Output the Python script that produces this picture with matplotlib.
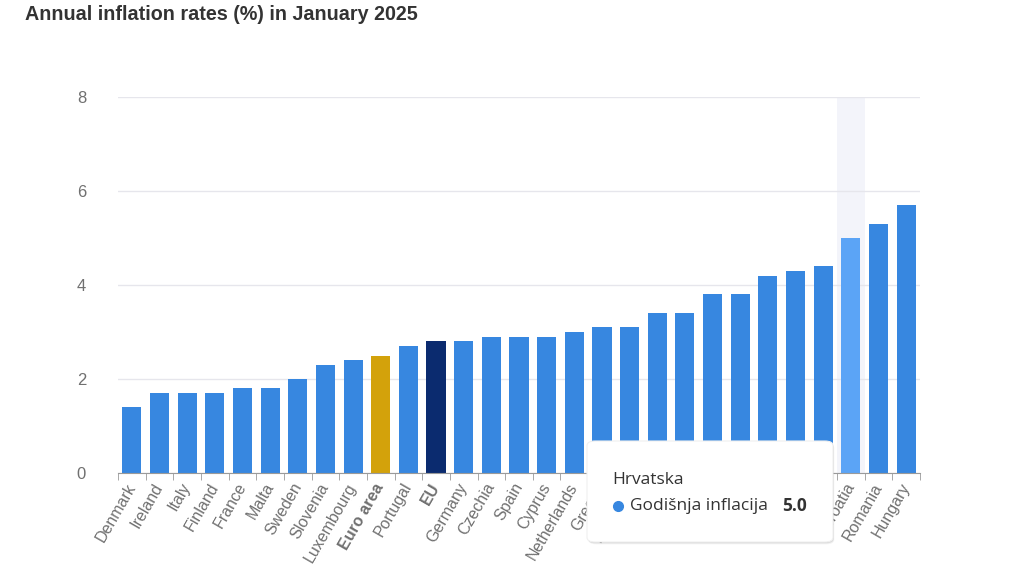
import matplotlib
matplotlib.use('Agg')
import matplotlib.pyplot as plt
from matplotlib.patches import FancyBboxPatch
from matplotlib.lines import Line2D
import numpy as np

# --- DATA ---
countries = ['Denmark', 'Ireland', 'Italy', 'Finland', 'France', 'Malta', 'Sweden',
             'Slovenia', 'Luxembourg', 'Euro area', 'Portugal', 'EU', 'Germany',
             'Czechia', 'Spain', 'Cyprus', 'Netherlands', 'Greece', 'Lithuania',
             'Austria', 'Latvia', 'Bulgaria', 'Poland', 'Slovakia', 'Estonia',
             'Belgium', 'Croatia', 'Romania', 'Hungary']
values = [1.4, 1.7, 1.7, 1.7, 1.8, 1.8, 2.0, 2.3, 2.4, 2.5, 2.7, 2.8, 2.8,
          2.9, 2.9, 2.9, 3.0, 3.1, 3.1, 3.4, 3.4, 3.8, 3.8, 4.2, 4.3, 4.4,
          5.0, 5.3, 5.7]
y_ticks = [0, 2, 4, 6, 8]
hovered = 'Croatia'
tooltip_title = 'Hrvatska'
tooltip_series = 'Godišnja inflacija'

# --- STYLE ---
base_col = '#3787e0'
hover_col = '#5ba4f6'
special = {'Euro area': '#d3a20b', 'EU': '#0b2b6f'}
txt_col = '#707070'

colors = []
for c in countries:
    if c in special:
        colors.append(special[c])
    elif c == hovered:
        colors.append(hover_col)
    else:
        colors.append(base_col)

fig = plt.figure(figsize=(10.24, 5.76), dpi=100)
ax = fig.add_axes([118 / 1024, 1 - 473 / 576, 802 / 1024, 376 / 576])

x = np.arange(len(countries))
hi = countries.index(hovered)
ax.axvspan(hi - 0.5, hi + 0.5, color='#f3f4fa', zorder=0, lw=0)
ax.bar(x, values, width=0.69, color=colors, zorder=2)

ax.set_xlim(-0.5, len(countries) - 0.5)
ax.set_ylim(0, 8)
ax.set_yticks(y_ticks)
ax.grid(axis='y', color='#e6e6ec', lw=1, zorder=1)
ax.tick_params(axis='y', length=0, pad=23, labelsize=12, labelcolor=txt_col)

for s in ['top', 'right', 'left']:
    ax.spines[s].set_visible(False)
ax.spines['bottom'].set_color('#9a9a9a')
ax.spines['bottom'].set_zorder(3)

ax.set_xticks(x)
ax.set_xticklabels(countries, rotation=60, ha='right', va='center',
                   rotation_mode='anchor', fontsize=11.5, color=txt_col)
for lbl in ax.get_xticklabels():
    if lbl.get_text() in special:
        lbl.set_fontweight('bold')
ax.tick_params(axis='x', which='major', length=0, pad=8)
ax.set_xticks(np.arange(-0.5, len(countries)), minor=True)
ax.tick_params(axis='x', which='minor', length=5, color='#9a9a9a')

for t in ax.get_yticklabels() + ax.get_xticklabels():
    t.set_family('Liberation Sans')

fig.text(25 / 1024, 1 - 15 / 576, 'Annual inflation rates (%) in January 2025',
         fontsize=14.2, fontweight='bold', color='#333333', va='center',
         family='Liberation Sans')

# --- tooltip ---
bx, by, bw, bh = 587 / 1024, 1 - 542 / 576, 246 / 1024, 101 / 576
for off, a in [(0.004, 0.05), (0.0025, 0.07), (0.001, 0.09)]:
    fig.add_artist(FancyBboxPatch((bx + off * 0.3, by - off), bw, bh,
                                  boxstyle='round,pad=0,rounding_size=0.008',
                                  transform=fig.transFigure, fc='black', ec='none',
                                  alpha=a, zorder=5))
fig.add_artist(FancyBboxPatch((bx, by), bw, bh,
                              boxstyle='round,pad=0,rounding_size=0.008',
                              transform=fig.transFigure, fc='white', ec='#f0f0f0',
                              lw=0.8, zorder=6))
fig.text(612 / 1024, 1 - 480 / 576, tooltip_title, fontsize=12.5, color='#333333',
         va='center', family='Open Sans', zorder=7)
fig.add_artist(Line2D([618 / 1024], [1 - 506 / 576], marker='o', markersize=7,
                      color=base_col, transform=fig.transFigure, zorder=7))
fig.text(630 / 1024, 1 - 506 / 576, tooltip_series, fontsize=12.5, color='#333333',
         va='center', family='Open Sans', zorder=7)
fig.text(782 / 1024, 1 - 506 / 576, f'{values[hi]:.1f}', fontsize=12.5,
         fontweight='bold', color='#333333', va='center', family='Open Sans', zorder=7)

fig.savefig('out.png', dpi=100)
